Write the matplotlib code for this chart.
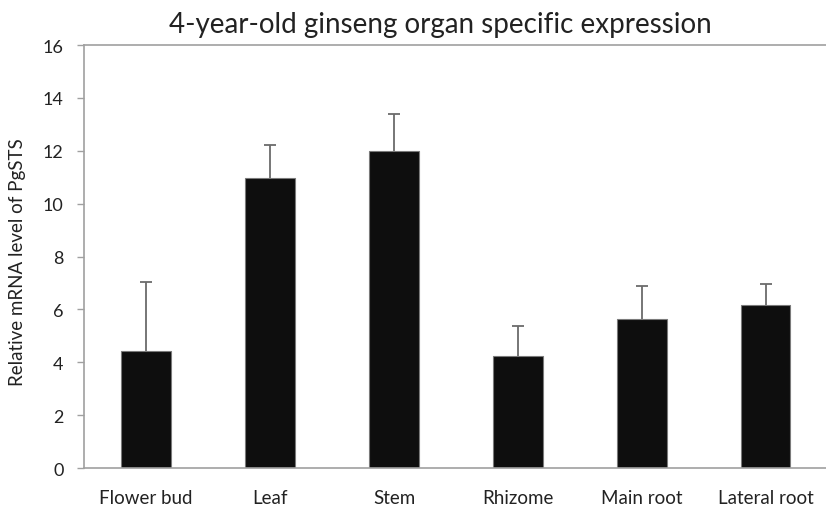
import matplotlib.pyplot as plt
import numpy as np

plt.rcParams['font.family'] = ['Lato', 'DejaVu Sans']

organs = ["Flower bud", "Leaf", "Stem", "Rhizome", "Main root", "Lateral root"]
expression = [4.44, 10.96, 12.0, 4.25, 5.64, 6.15]
err_top = [7.02, 12.22, 13.4, 5.38, 6.9, 6.95]

fig = plt.figure(figsize=(8.26, 5.06), dpi=100)
ax = fig.add_axes([0.102, 0.073, 0.9, 0.836])

x = np.arange(len(organs))
ax.bar(x, expression, width=0.4, color="#0e0e0e", edgecolor="#7a7a7a", linewidth=0.8, zorder=2)
# upper error bars only
ax.vlines(x, expression, err_top, color="#6b6b6b", linewidth=1.3, zorder=3)
ax.hlines(err_top, x - 0.05, x + 0.05, color="#6b6b6b", linewidth=1.3, zorder=3)

ax.set_xlim(-0.5, 5.5)
ax.set_ylim(0, 16)
ax.set_yticks(range(0, 17, 2))
ax.set_xticks(x)
ax.set_xticklabels(organs)
ax.tick_params(axis="y", length=5, width=1, color="#a0a0a0", labelsize=13, labelcolor="#222222", pad=10)
ax.tick_params(axis="x", length=0, labelsize=13.5, labelcolor="#222222", pad=15)

for side in ["left", "bottom", "top"]:
    ax.spines[side].set_color("#a0a0a0")
    ax.spines[side].set_linewidth(1.2)
ax.spines["right"].set_visible(False)

ax.set_ylabel("Relative mRNA level of PgSTS", fontsize=13.5, color="#222222")
ax.yaxis.set_label_coords(-0.078, 0.49)
fig.text(440 / 826, 1 - 25 / 506, "4-year-old ginseng organ specific expression",
         ha="center", va="center", fontsize=20, color="#222222")

fig.savefig("out.png", dpi=100)
